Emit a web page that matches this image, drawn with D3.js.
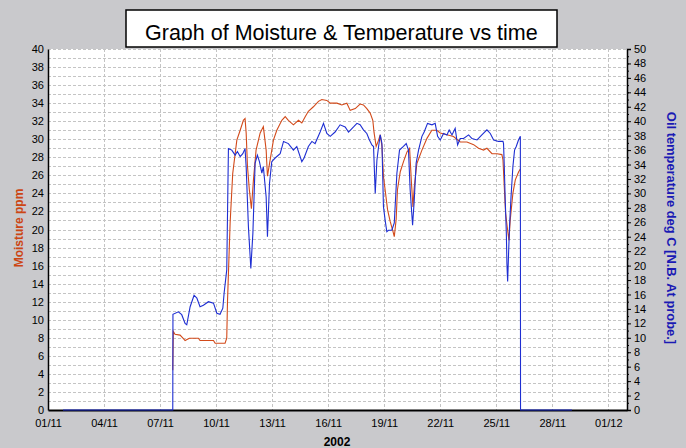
<!DOCTYPE html>
<html>
<head>
<meta charset="utf-8">
<script src="https://cdn.jsdelivr.net/npm/d3@7"></script>
<style>
  body { margin: 0; background: #c9c9cc; }
  svg { display: block; }
  text { font-family: "Liberation Sans", Arial, sans-serif; }
  .tick-lbl { font-family: "Liberation Sans Narrow", "Arial Narrow", "Liberation Sans", Arial, sans-serif; font-size: 11px; fill: #000; }
</style>
</head>
<body>
<div id="chart"></div>
<script>
// time in days of November 2002 (1 = 01/11 00:00)
var tempDay = [1.80, 7.68, 7.69, 7.98, 8.16, 8.34, 8.43, 8.61, 8.82, 8.97, 9.14, 9.32, 9.59, 9.86, 10.04, 10.21, 10.36, 10.43, 10.57,
  10.66, 10.84, 11.02, 11.14, 11.29, 11.43, 11.55, 11.61, 11.73, 11.86, 11.97, 12.09, 12.21, 12.32, 12.45, 12.53, 12.68, 12.75, 12.86,
  12.98, 13.16, 13.43, 13.61, 13.87, 14.14, 14.32, 14.59, 14.71, 14.94, 15.13, 15.30, 15.57, 15.75, 15.93, 16.11, 16.37, 16.64, 16.91,
  17.09, 17.36, 17.54, 17.71, 17.89, 18.07, 18.21, 18.34, 18.43, 18.52, 18.61, 18.70, 18.79, 18.88, 18.96, 19.05, 19.14, 19.23, 19.41,
  19.54, 19.68, 19.82, 20.03, 20.18, 20.30, 20.39, 20.52, 20.61, 20.71, 20.84, 21.02, 21.14, 21.32, 21.56, 21.73, 21.86, 22.00, 22.18,
  22.36, 22.48, 22.63, 22.80, 22.93, 23.07, 23.25, 23.52, 23.70, 23.97, 24.23, 24.50, 24.68, 24.86, 25.12, 25.36, 25.39, 25.43, 25.48,
  25.54, 25.57, 25.61, 25.66, 25.71, 25.79, 25.89, 25.98, 26.07, 26.19, 26.29, 26.30, 29.05];
var tempVal = [0, 0, 13.25, 13.6, 13.2, 12.0, 11.8, 14.3, 15.9, 15.5, 14.3, 14.5, 15.0, 14.8, 13.4, 13.25, 14.1, 16.2, 19.4,
  36.2, 36.0, 35.3, 35.8, 35.1, 35.5, 36.2, 33.7, 25.4, 19.6, 24.5, 34.2, 35.3, 34.4, 32.8, 33.7, 29.5, 24.0, 31.4,
  34.4, 34.9, 35.5, 37.2, 36.9, 36.0, 36.5, 34.4, 34.9, 36.5, 37.2, 36.9, 38.5, 39.7, 38.3, 37.9, 38.5, 39.5, 39.2,
  38.5, 39.2, 39.7, 39.5, 38.8, 38.3, 37.4, 36.7, 36.5, 30.0, 34.6, 36.5, 38.1, 36.9, 28.2, 26.3, 24.7, 24.9, 24.9,
  25.9, 32.8, 36.0, 36.5, 36.9, 36.0, 30.5, 25.6, 29.1, 34.2, 36.0, 37.9, 38.5, 39.7, 39.5, 39.7, 37.9, 37.4, 38.3,
  38.1, 38.8, 38.1, 39.0, 36.7, 37.6, 37.6, 38.1, 37.6, 37.4, 38.1, 38.8, 38.3, 37.4, 37.2, 37.2, 36.9, 33.7, 29.1,
  24.5, 20.3, 17.8, 21.7, 25.4, 29.5, 33.7, 36.0, 36.5, 37.4, 37.9, 0, 0];

var moistDay = [7.68, 7.71, 7.80, 8.07, 8.25, 8.34, 8.57, 9.05, 9.14, 9.86, 9.95, 10.48, 10.57, 10.61, 10.75, 10.89, 11.11, 11.29,
  11.46, 11.55, 11.61, 11.68, 11.78, 11.89, 12.00, 12.14, 12.36, 12.53, 12.68, 12.75, 12.86, 13.07, 13.25, 13.52, 13.70, 13.87,
  14.14, 14.41, 14.59, 14.77, 14.94, 15.21, 15.48, 15.66, 15.93, 16.11, 16.47, 16.73, 17.00, 17.18, 17.45, 17.71, 17.89, 18.07,
  18.25, 18.39, 18.46, 18.57, 18.70, 18.79, 18.88, 18.96, 19.05, 19.18, 19.32, 19.47, 19.54, 19.64, 19.71, 19.86, 20.03, 20.22,
  20.36, 20.45, 20.54, 20.61, 20.75, 21.02, 21.29, 21.55, 21.82, 22.00, 22.36, 22.71, 23.07, 23.43, 23.79, 24.05, 24.32, 24.50,
  24.77, 25.04, 25.30, 25.36, 25.43, 25.50, 25.61, 25.68, 25.75, 25.89, 26.02, 26.20, 26.29];
var moistVal = [4.4, 8.7, 8.4, 8.3, 7.9, 7.7, 7.95, 7.95, 7.7, 7.7, 7.4, 7.4, 7.95, 12.0, 20.7, 26.2, 29.9, 31.0,
  32.1, 32.3, 30.7, 27.0, 24.4, 22.3, 25.5, 28.8, 30.7, 31.4, 28.8, 25.9, 27.3, 29.9, 31.0, 32.1, 32.5, 32.1,
  31.6, 32.1, 31.8, 32.5, 33.1, 33.6, 34.2, 34.4, 34.3, 34.0, 34.0, 33.8, 34.0, 33.2, 33.4, 33.9, 33.8, 33.4,
  32.9, 32.1, 30.7, 29.2, 29.9, 30.5, 29.2, 25.9, 24.4, 22.2, 20.9, 19.8, 19.2, 21.1, 24.4, 26.4, 27.5, 28.6,
  29.0, 25.5, 22.5, 24.7, 27.3, 28.8, 30.1, 31.0, 31.0, 30.7, 30.5, 30.3, 29.7, 29.7, 29.4, 29.0, 28.8, 29.0,
  28.4, 28.4, 28.3, 27.7, 24.7, 21.8, 19.9, 18.8, 21.1, 24.0, 25.5, 26.4, 26.7];

var titleText = "Graph of Moisture & Temperature vs time";
var leftTitle = "Moisture ppm";
var rightTitle = "Oil temperature deg C [N.B. At probe.]";
var yearLabel = "2002";

var W = 686, H = 448;
var plot = { left: 48, right: 627, top: 49, bottom: 410 };

var toDate = function (d) { return new Date(Date.UTC(2002, 10, 1) + (d - 1) * 864e5); };

var svg = d3.select("#chart").append("svg")
    .attr("width", W)
    .attr("height", H);

svg.append("rect").attr("width", W).attr("height", H).attr("fill", "#c9c9cc");

var x = d3.scaleUtc()
    .domain([new Date(Date.UTC(2002, 10, 1)), new Date(Date.UTC(2002, 11, 2))])
    .range([plot.left, plot.right]);
var yL = d3.scaleLinear().domain([0, 40]).range([plot.bottom, plot.top]);
var yR = d3.scaleLinear().domain([0, 50]).range([plot.bottom, plot.top]);

// plot background
svg.append("rect")
    .attr("x", plot.left).attr("y", plot.top)
    .attr("width", plot.right - plot.left).attr("height", plot.bottom - plot.top)
    .attr("fill", "#fff");

// grid
var grid = svg.append("g").attr("stroke", "#c4c4c4").attr("stroke-dasharray", "3,2").attr("stroke-width", 1);
grid.selectAll(".h").data(yL.ticks(40).filter(function (d) { return d > 0; }))
    .join("line")
    .attr("x1", plot.left).attr("x2", plot.right)
    .attr("y1", function (d) { return Math.round(yL(d)) + 0.5; })
    .attr("y2", function (d) { return Math.round(yL(d)) + 0.5; });
var dayTicks = x.ticks(d3.utcDay.every(3));
grid.selectAll(".v").data(dayTicks.slice(1))
    .join("line")
    .attr("y1", plot.top).attr("y2", plot.bottom)
    .attr("x1", function (d) { return Math.round(x(d)) + 0.5; })
    .attr("x2", function (d) { return Math.round(x(d)) + 0.5; });

// axes
var axL = svg.append("g").attr("transform", "translate(" + plot.left + ",0)")
    .call(d3.axisLeft(yL).ticks(20).tickSize(0).tickPadding(4));
var axR = svg.append("g").attr("transform", "translate(" + plot.right + ",0)")
    .call(d3.axisRight(yR).ticks(25).tickSize(4).tickPadding(3));
svg.append("g").attr("transform", "translate(" + plot.right + ",0)")
    .call(d3.axisRight(yR).ticks(50).tickSize(2).tickFormat(""))
    .select(".domain").remove();
var axB = svg.append("g").attr("transform", "translate(0," + plot.bottom + ")")
    .call(d3.axisBottom(x).ticks(d3.utcDay.every(3)).tickSize(0).tickPadding(9)
        .tickFormat(d3.utcFormat("%d/%m")));

[axL, axR, axB].forEach(function (ax) {
    ax.selectAll("text").attr("class", "tick-lbl").attr("font-family", null).attr("font-size", null);
    ax.select(".domain").attr("stroke", "#000").attr("stroke-width", 1.5);
});
axB.select(".domain").attr("stroke-width", 2);

// lines
var lineM = d3.line()
    .x(function (d, i) { return x(toDate(moistDay[i])); })
    .y(function (d) { return yL(d); });
var lineT = d3.line()
    .x(function (d, i) { return x(toDate(tempDay[i])); })
    .y(function (d) { return yR(d); });

svg.append("path").datum(moistVal)
    .attr("d", lineM).attr("fill", "none")
    .attr("stroke", "#d24a1a").attr("stroke-width", 1.1);
svg.append("path").datum(tempVal)
    .attr("d", lineT).attr("fill", "none")
    .attr("stroke", "#1e2ed2").attr("stroke-width", 1.1);

// title box
svg.append("clipPath").attr("id", "titleClip")
    .append("rect").attr("x", 126).attr("y", 10).attr("width", 431).attr("height", 30.5);
svg.append("rect")
    .attr("x", 126).attr("y", 10).attr("width", 431).attr("height", 37)
    .attr("fill", "#fff").attr("stroke", "#000").attr("stroke-width", 1.5);
svg.append("text")
    .attr("clip-path", "url(#titleClip)")
    .attr("x", 145).attr("y", 40)
    .attr("font-size", 21.5)
    .text(titleText);

// axis titles
svg.append("text")
    .attr("transform", "translate(23,228) rotate(-90)")
    .attr("text-anchor", "middle")
    .attr("font-size", 12).attr("font-weight", "bold")
    .attr("fill", "#cc4614")
    .text(leftTitle);
svg.append("text")
    .attr("transform", "translate(667,228) rotate(90)")
    .attr("text-anchor", "middle")
    .attr("font-size", 12.9).attr("font-weight", "bold")
    .attr("fill", "#1a1ab4")
    .text(rightTitle);
svg.append("text")
    .attr("x", 337).attr("y", 446)
    .attr("text-anchor", "middle")
    .attr("font-size", 12).attr("font-weight", "bold")
    .text(yearLabel);
</script>
</body>
</html>
